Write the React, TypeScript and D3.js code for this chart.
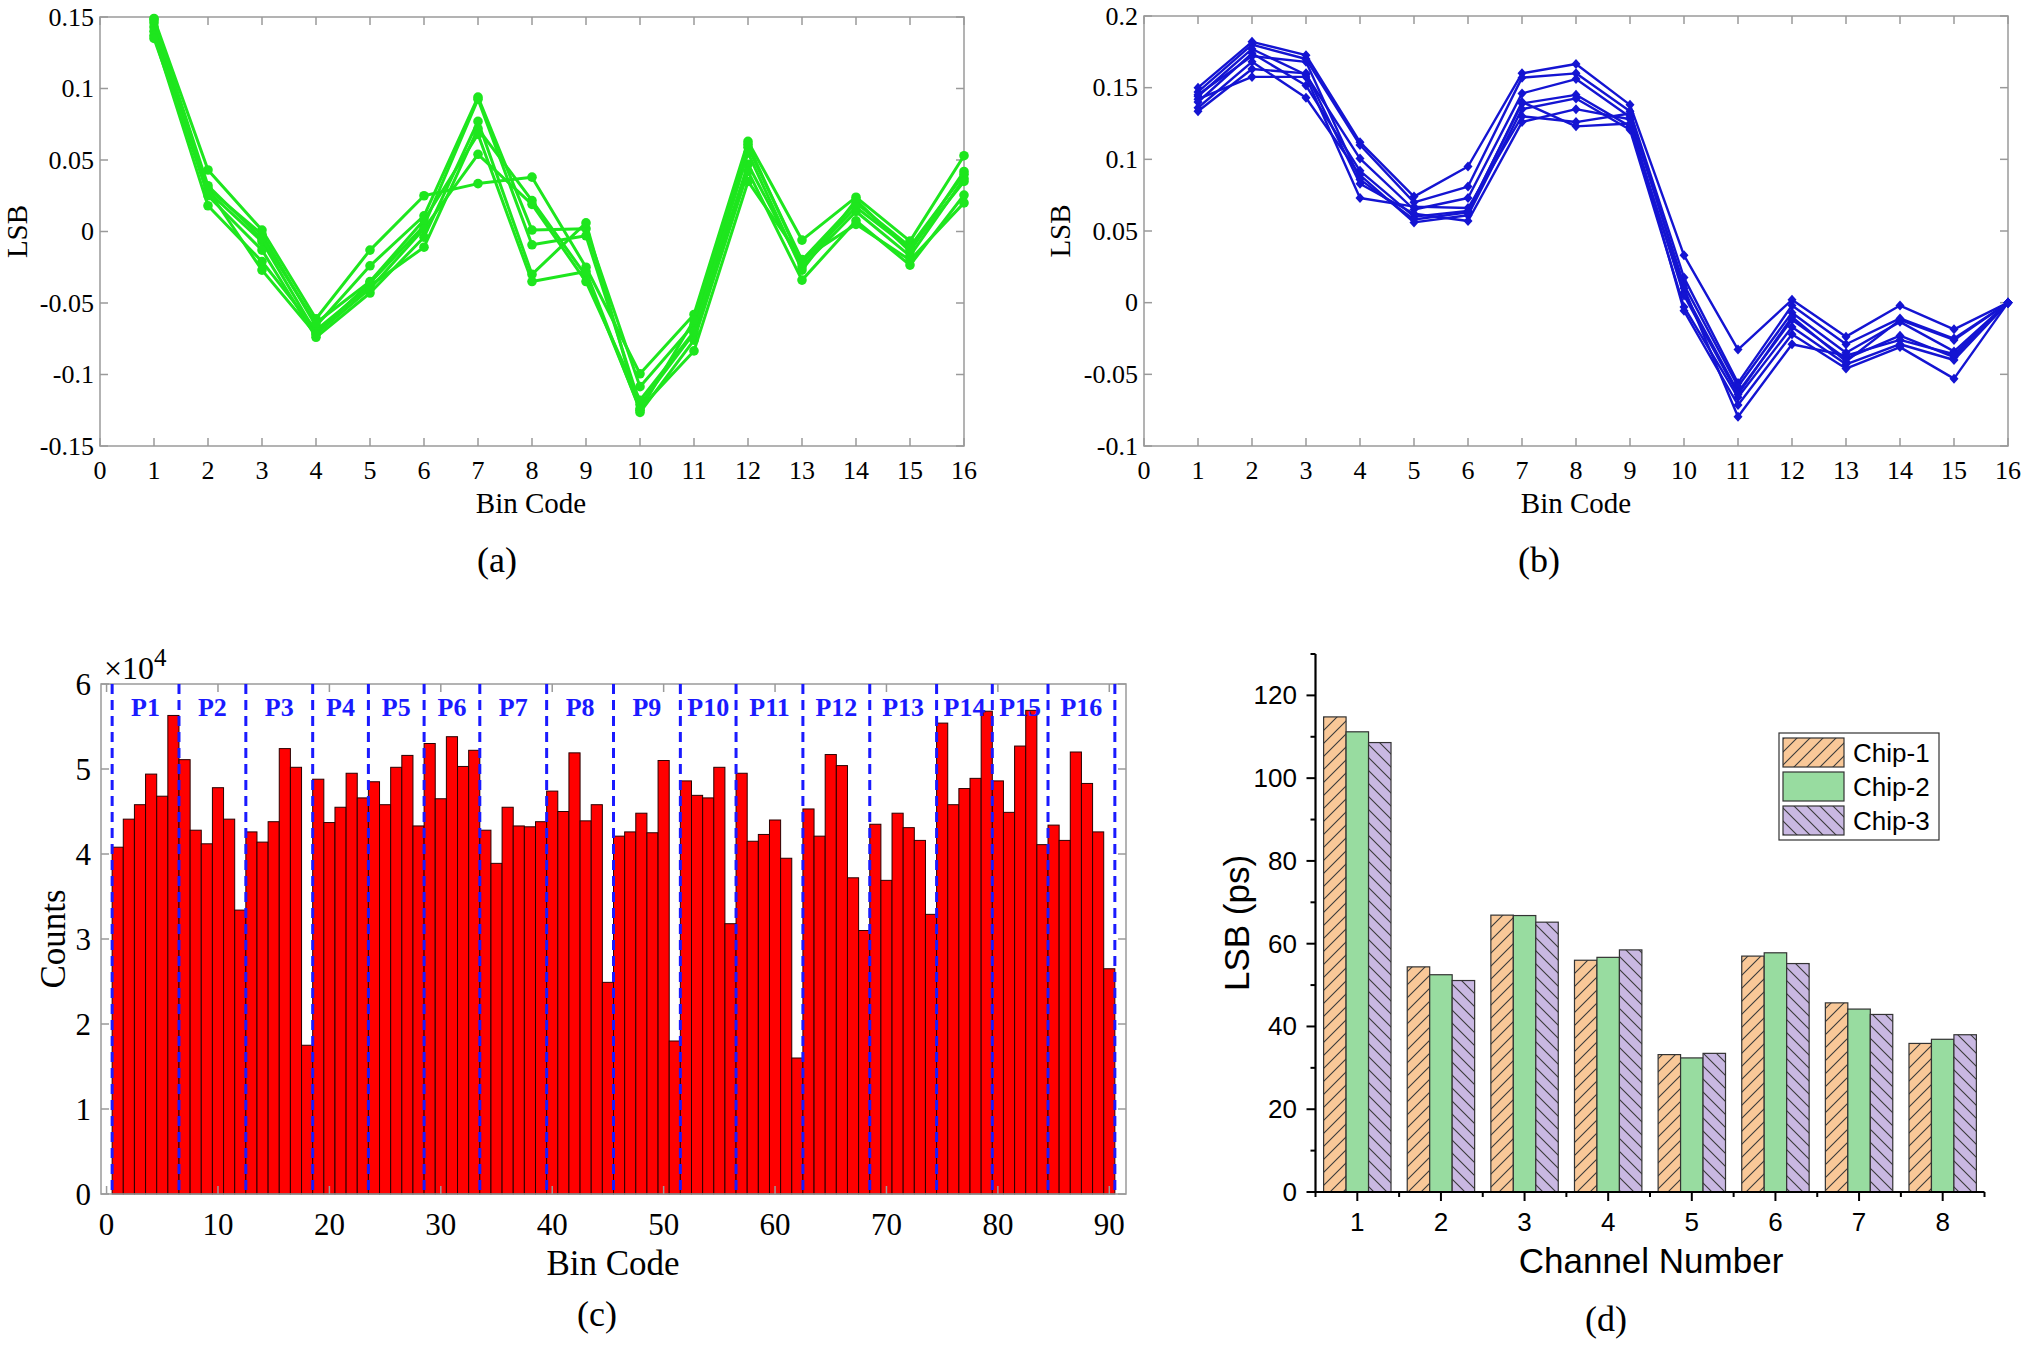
import React from 'react';
import * as d3 from 'd3';

// ---- data (a): LSB error per bin code, green group ----
const binCodes = [1, 2, 3, 4, 5, 6, 7, 8, 9, 10, 11, 12, 13, 14, 15, 16];
const lsbA1 = [0.149, 0.043, 0.001, -0.061, -0.013, 0.025, 0.0335, 0.038, -0.025, -0.0995, -0.058, 0.063, -0.006, 0.024, -0.0067, 0.053];
const lsbA2 = [0.146, 0.030, -0.002, -0.066, -0.024, 0.011, 0.094, 0.001, 0.002, -0.1085, -0.065, 0.059, -0.020, 0.020, -0.0106, 0.040];
const lsbA3 = [0.143, 0.028, -0.007, -0.071, -0.036, 0.004, 0.0925, -0.0093, -0.003, -0.121, -0.071, 0.047, -0.0247, 0.014, -0.017, 0.037];
const lsbA4 = [0.140, 0.025, -0.013, -0.074, -0.043, -0.004, 0.077, -0.030, 0.006, -0.1265, -0.076, 0.042, -0.034, 0.0075, -0.0235, 0.0255];
const lsbA5 = [0.137, 0.018, -0.021, -0.069, -0.038, -0.011, 0.072, 0.0216, -0.031, -0.124, -0.0835, 0.035, -0.0196, 0.005, -0.020, 0.020];
const lsbA6 = [0.135, 0.029, -0.027, -0.072, -0.040, 0.002, 0.054, 0.019, -0.035, -0.118, -0.070, 0.055, -0.027, 0.022, -0.014, 0.042];
const lsbA7 = [0.148, 0.032, -0.005, -0.064, -0.035, 0.008, 0.068, -0.035, -0.028, -0.125, -0.062, 0.061, -0.022, 0.017, -0.012, 0.035];

// ---- data (b): blue group ----
const lsbB1 = [0.150, 0.182, 0.1727, 0.112, 0.074, 0.095, 0.160, 0.1665, 0.138, 0.033, -0.0327, 0.002, -0.0237, -0.002, -0.0186, 0];
const lsbB2 = [0.147, 0.180, 0.170, 0.110, 0.070, 0.081, 0.157, 0.160, 0.1335, 0.0175, -0.056, -0.002, -0.029, -0.011, -0.025, 0];
const lsbB3 = [0.144, 0.177, 0.159, 0.1005, 0.065, 0.073, 0.146, 0.156, 0.1296, 0.0124, -0.0585, -0.007, -0.035, -0.0134, -0.034, 0];
const lsbB4 = [0.140, 0.174, 0.1515, 0.092, 0.060, 0.064, 0.139, 0.145, 0.123, 0.0072, -0.0624, -0.012, -0.039, -0.023, -0.038, 0];
const lsbB5 = [0.136, 0.168, 0.143, 0.089, 0.056, 0.061, 0.135, 0.1425, 0.1206, -0.003, -0.066, -0.017, -0.043, -0.029, -0.040, 0];
const lsbB6 = [0.1335, 0.163, 0.160, 0.083, 0.062, 0.057, 0.126, 0.135, 0.128, -0.0057, -0.0714, -0.022, -0.046, -0.031, -0.053, 0];
const lsbB7 = [0.142, 0.1575, 0.1575, 0.073, 0.067, 0.066, 0.130, 0.126, 0.132, 0.010, -0.0796, -0.029, -0.037, -0.026, -0.036, 0];
const lsbB8 = [0.145, 0.172, 0.168, 0.086, 0.058, 0.063, 0.140, 0.123, 0.125, 0.005, -0.064, -0.010, -0.041, -0.012, -0.026, 0];

const ticksAB = [0, 1, 2, 3, 4, 5, 6, 7, 8, 9, 10, 11, 12, 13, 14, 15, 16];
const yTicksA = [-0.15, -0.1, -0.05, 0, 0.05, 0.1, 0.15];
const yLabelsA = ['-0.15', '-0.1', '-0.05', '0', '0.05', '0.1', '0.15'];
const yTicksB = [-0.1, -0.05, 0, 0.05, 0.1, 0.15, 0.2];
const yLabelsB = ['-0.1', '-0.05', '0', '0.05', '0.1', '0.15', '0.2'];

// ---- data (c): code density histogram, counts in units of 1e4 ----
const binCounts = [
  4.08, 4.41, 4.58, 4.94, 4.68, 5.63, 5.11, 4.28, 4.12, 4.78,
  4.41, 3.34, 4.26, 4.14, 4.38, 5.24, 5.02, 1.75, 4.88, 4.37,
  4.55, 4.95, 4.66, 4.85, 4.58, 5.02, 5.16, 4.33, 5.30, 4.65,
  5.38, 5.03, 5.22, 4.28, 3.89, 4.55, 4.33, 4.32, 4.38, 4.74,
  4.50, 5.19, 4.39, 4.58, 2.49, 4.21, 4.26, 4.48, 4.25, 5.10,
  1.80, 4.86, 4.69, 4.66, 5.02, 3.18, 4.95, 4.15, 4.23, 4.40,
  3.95, 1.60, 4.53, 4.21, 5.17, 5.04, 3.72, 3.10, 4.35, 3.69,
  4.48, 4.31, 4.16, 3.29, 5.54, 4.58, 4.77, 4.89, 5.68, 4.86,
  4.49, 5.27, 5.69, 4.11, 4.34, 4.16, 5.20, 4.83, 4.26, 2.65,
];
const countTicks = [0, 1, 2, 3, 4, 5, 6];
const binTicksC = [0, 10, 20, 30, 40, 50, 60, 70, 80, 90];
const partEdges = [0.5, 6.5, 12.5, 18.5, 23.5, 28.5, 33.5, 39.5, 45.5, 51.5, 56.5, 62.5, 68.5, 74.5, 79.5, 84.5, 90.5];
const partLabels = ['P1', 'P2', 'P3', 'P4', 'P5', 'P6', 'P7', 'P8', 'P9', 'P10', 'P11', 'P12', 'P13', 'P14', 'P15', 'P16'];

// ---- data (d): LSB per channel for three chips ----
const channels = [1, 2, 3, 4, 5, 6, 7, 8];
const chip1 = [114.8, 54.4, 66.9, 56.0, 33.2, 57.0, 45.7, 35.9];
const chip2 = [111.2, 52.5, 66.8, 56.7, 32.4, 57.8, 44.2, 36.9];
const chip3 = [108.6, 51.1, 65.2, 58.5, 33.5, 55.2, 42.9, 38.0];
const chipNames = ['Chip-1', 'Chip-2', 'Chip-3'];
const lsbTicksD = [0, 20, 40, 60, 80, 100, 120];
const lsbMinorD = [10, 30, 50, 70, 90, 110, 130];
const chanMinorD = [0.5, 1.5, 2.5, 3.5, 4.5, 5.5, 6.5, 7.5, 8.5];

const SERIF = '"Liberation Serif", "Times New Roman", serif';
const SANS = '"Liberation Sans", Arial, sans-serif';
const FRAME = '#9a9a9a';

const LinePanel = (props) => {
  const { box, yDomain, yTicks, yLabels, series, color, marker, caption, labelX, titleX, captionX } = props;
  const x = d3.scaleLinear().domain([0, 16]).range([box.left, box.right]);
  const y = d3.scaleLinear().domain(yDomain).range([box.bottom, box.top]);
  const line = d3.line<number>().x((d, i) => x(binCodes[i])).y(d => y(d));
  const diamond = 'M0,-5 L4.5,0 L0,5 L-4.5,0 Z';
  const tl = 8;

  return (
    <g>
      <rect x={box.left} y={box.top} width={box.right - box.left} height={box.bottom - box.top}
        fill="none" stroke={FRAME} strokeWidth={1.5} />
      {ticksAB.map(t => (
        <g key={'xt' + t}>
          <line x1={x(t)} x2={x(t)} y1={box.bottom} y2={box.bottom - tl} stroke={FRAME} strokeWidth={1.5} />
          <line x1={x(t)} x2={x(t)} y1={box.top} y2={box.top + tl} stroke={FRAME} strokeWidth={1.5} />
          <text x={x(t)} y={box.bottom + 24} textAnchor="middle" dominantBaseline="central"
            fontFamily={SERIF} fontSize={26}>{t}</text>
        </g>
      ))}
      {yTicks.map((t, i) => (
        <g key={'yt' + t}>
          <line x1={box.left} x2={box.left + tl} y1={y(t)} y2={y(t)} stroke={FRAME} strokeWidth={1.5} />
          <line x1={box.right} x2={box.right - tl} y1={y(t)} y2={y(t)} stroke={FRAME} strokeWidth={1.5} />
          <text x={box.left - 6} y={y(t)} textAnchor="end" dominantBaseline="central"
            fontFamily={SERIF} fontSize={26}>{yLabels[i]}</text>
        </g>
      ))}
      {series.map((s, si) => (
        <g key={'s' + si}>
          <path d={line(s)} fill="none" stroke={color} strokeWidth={marker === 'circle' ? 3 : 2.4} strokeLinejoin="round" />
          {s.map((v, i) => marker === 'circle'
            ? <circle key={i} cx={x(binCodes[i])} cy={y(v)} r={4.8} fill={color} />
            : <path key={i} d={diamond} transform={`translate(${x(binCodes[i])},${y(v)})`} fill={color} />)}
        </g>
      ))}
      <text x={titleX} y={503} textAnchor="middle" dominantBaseline="central" fontFamily={SERIF} fontSize={29}>Bin Code</text>
      <text transform={`translate(${labelX},${(box.top + box.bottom) / 2}) rotate(-90)`} textAnchor="middle"
        dominantBaseline="central" fontFamily={SERIF} fontSize={29}>LSB</text>
      <text x={captionX} y={560} textAnchor="middle" dominantBaseline="central" fontFamily={SERIF} fontSize={36}>{caption}</text>
    </g>
  );
};

const HistPanel = () => {
  const box = { left: 101, right: 1126, top: 684, bottom: 1194 };
  const x = d3.scaleLinear().domain([-0.5, 91.5]).range([box.left, box.right]);
  const y = d3.scaleLinear().domain([0, 6]).range([box.bottom, box.top]);
  const tl = 8;
  return (
    <g>
      {binCounts.map((c, i) => {
        const k = i + 1;
        return <rect key={i} x={x(k - 0.5)} y={y(c)} width={x(k + 0.5) - x(k - 0.5)} height={box.bottom - y(c)}
          fill="#ff0000" stroke="#2a0000" strokeWidth={1} />;
      })}
      <rect x={box.left} y={box.top} width={box.right - box.left} height={box.bottom - box.top}
        fill="none" stroke={FRAME} strokeWidth={1.5} />
      {binTicksC.map(t => (
        <g key={'xt' + t}>
          <line x1={x(t)} x2={x(t)} y1={box.bottom} y2={box.bottom - tl} stroke={FRAME} strokeWidth={1.5} />
          <line x1={x(t)} x2={x(t)} y1={box.top} y2={box.top + tl} stroke={FRAME} strokeWidth={1.5} />
          <text x={x(t)} y={1224} textAnchor="middle" dominantBaseline="central" fontFamily={SERIF} fontSize={31}>{t}</text>
        </g>
      ))}
      {countTicks.map(t => (
        <g key={'yt' + t}>
          <line x1={box.left} x2={box.left + tl} y1={y(t)} y2={y(t)} stroke={FRAME} strokeWidth={1.5} />
          <line x1={box.right} x2={box.right - tl} y1={y(t)} y2={y(t)} stroke={FRAME} strokeWidth={1.5} />
          <text x={box.left - 10} y={y(t)} textAnchor="end" dominantBaseline="central" fontFamily={SERIF} fontSize={31}>{t}</text>
        </g>
      ))}
      {partEdges.map((e, i) => (
        <line key={'pe' + i} x1={x(e)} x2={x(e)} y1={box.top} y2={box.bottom} stroke="#1a1aff"
          strokeWidth={3} strokeDasharray="10,6" />
      ))}
      {partLabels.map((p, i) => (
        <text key={p} x={x((partEdges[i] + partEdges[i + 1]) / 2)} y={707} textAnchor="middle" dominantBaseline="central"
          fontFamily={SERIF} fontWeight="bold" fontSize={26} fill="#1a1aff">{p}</text>
      ))}
      <text x={104} y={668} fontFamily={SERIF} fontSize={32} dominantBaseline="central">×10<tspan dy={-11} fontSize={25}>4</tspan></text>
      <text transform={`translate(53,${(box.top + box.bottom) / 2}) rotate(-90)`} textAnchor="middle"
        dominantBaseline="central" fontFamily={SERIF} fontSize={35}>Counts</text>
      <text x={613} y={1263} textAnchor="middle" dominantBaseline="central" fontFamily={SERIF} fontSize={35}>Bin Code</text>
      <text x={597} y={1314} textAnchor="middle" dominantBaseline="central" fontFamily={SERIF} fontSize={36}>(c)</text>
    </g>
  );
};

const BarPanel = () => {
  const left = 1315.5, right = 1984.5, top = 654, bottom = 1192;
  const x = d3.scaleLinear().domain([0.5, 8.5]).range([left, right]);
  const y = d3.scaleLinear().domain([0, 130]).range([bottom, top]);
  const unit = x(2) - x(1);
  const sub = d3.scaleBand().domain(chipNames).range([-0.403 * unit, 0.403 * unit]);
  const chipValues = [chip1, chip2, chip3];
  const fills = ['url(#hatchA)', '#98dca0', 'url(#hatchB)'];
  const legend = { x: 1779, y: 733, w: 160, h: 107 };
  return (
    <g>
      <defs>
        <pattern id="hatchA" patternUnits="userSpaceOnUse" width={13} height={13}>
          <rect width={13} height={13} fill="#f9c898" />
          <path d="M-2,2 L2,-2 M0,13 L13,0 M11,15 L15,11" stroke="#3a3a3a" strokeWidth={1.1} />
        </pattern>
        <pattern id="hatchB" patternUnits="userSpaceOnUse" width={13} height={13}>
          <rect width={13} height={13} fill="#c9b8e2" />
          <path d="M-2,11 L2,15 M0,0 L13,13 M11,-2 L15,2" stroke="#3a3a3a" strokeWidth={1.1} />
        </pattern>
      </defs>
      {channels.map((c, ci) => chipNames.map((n, k) => (
        <rect key={n + c} x={x(c) + sub(n)} y={y(chipValues[k][ci])} width={sub.bandwidth()}
          height={bottom - y(chipValues[k][ci])} fill={fills[k]} stroke="#333" strokeWidth={1.2} />
      )))}
      <line x1={left} x2={left} y1={top} y2={bottom} stroke="#000" strokeWidth={2.2} />
      <line x1={left} x2={right} y1={bottom} y2={bottom} stroke="#000" strokeWidth={2.2} />
      {lsbTicksD.map(t => (
        <g key={'yt' + t}>
          <line x1={left} x2={left - 9} y1={y(t)} y2={y(t)} stroke="#000" strokeWidth={2} />
          <text x={1297} y={y(t)} textAnchor="end" dominantBaseline="central" fontFamily={SANS} fontSize={26}>{t}</text>
        </g>
      ))}
      {lsbMinorD.map(t => (
        <line key={'ym' + t} x1={left} x2={left - 5} y1={y(t)} y2={y(t)} stroke="#000" strokeWidth={2} />
      ))}
      {channels.map(c => (
        <g key={'xt' + c}>
          <line x1={x(c)} x2={x(c)} y1={bottom} y2={bottom + 9} stroke="#000" strokeWidth={2} />
          <text x={x(c)} y={1222} textAnchor="middle" dominantBaseline="central" fontFamily={SANS} fontSize={26}>{c}</text>
        </g>
      ))}
      {chanMinorD.map(t => (
        <line key={'xm' + t} x1={x(t)} x2={x(t)} y1={bottom} y2={bottom + 5} stroke="#000" strokeWidth={2} />
      ))}
      <text x={1651} y={1260} textAnchor="middle" dominantBaseline="central" fontFamily={SANS} fontSize={35}>Channel Number</text>
      <text transform={`translate(1236,${(top + bottom) / 2}) rotate(-90)`} textAnchor="middle"
        dominantBaseline="central" fontFamily={SANS} fontSize={35}>LSB (ps)</text>
      <rect x={legend.x} y={legend.y} width={legend.w} height={legend.h} fill="#fff" stroke="#333" strokeWidth={1.2} />
      {chipNames.map((n, k) => (
        <g key={'lg' + n}>
          <rect x={legend.x + 4} y={legend.y + 5 + k * 34} width={61} height={29} fill={fills[k]} stroke="#333" strokeWidth={1.2} />
          <text x={legend.x + 74} y={legend.y + 20 + k * 34} dominantBaseline="central" fontFamily={SANS} fontSize={26}>{n}</text>
        </g>
      ))}
      <text x={1606} y={1319} textAnchor="middle" dominantBaseline="central" fontFamily={SERIF} fontSize={36}>(d)</text>
    </g>
  );
};

export default function App() {
  return (
    <svg width={2030} height={1345} style={{ position: 'absolute', left: 0, top: 0, background: '#fff' }}>
      <rect width={2030} height={1345} fill="#fff" />
      <LinePanel box={{ left: 100, right: 964, top: 17, bottom: 446 }} yDomain={[-0.15, 0.15]} yTicks={yTicksA}
        yLabels={yLabelsA} series={[lsbA1, lsbA2, lsbA3, lsbA4, lsbA5, lsbA6, lsbA7]} color="#1ee61e" marker="circle"
        caption="(a)" labelX={17} titleX={531} captionX={497} />
      <LinePanel box={{ left: 1144, right: 2008, top: 16, bottom: 446 }} yDomain={[-0.1, 0.2]} yTicks={yTicksB}
        yLabels={yLabelsB} series={[lsbB1, lsbB2, lsbB3, lsbB4, lsbB5, lsbB6, lsbB7, lsbB8]} color="#1414d2" marker="diamond"
        caption="(b)" labelX={1060} titleX={1576} captionX={1539} />
      <HistPanel />
      <BarPanel />
    </svg>
  );
}
